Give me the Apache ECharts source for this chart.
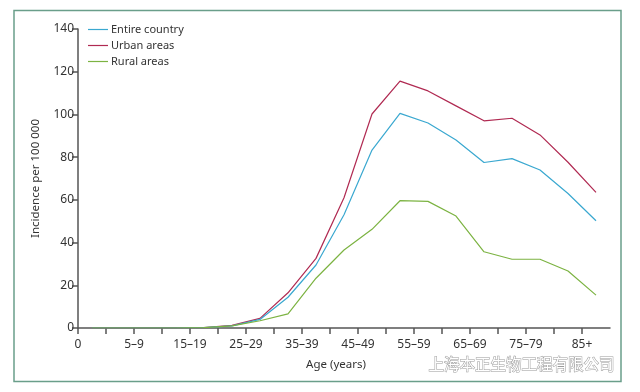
<!DOCTYPE html>
<html>
<head>
<meta charset="utf-8">
<script src="https://cdn.jsdelivr.net/npm/echarts@6/dist/echarts.min.js"></script>
<style>
html,body{margin:0;padding:0;background:#fff;}
#c{width:640px;height:392px;}
</style>
</head>
<body>
<div id="c"></div>
<script>
// Age groups (tick labels sit on boundaries 0..18; points drawn mid-interval)
var ageGroups = ['0','1–4','5–9','10–14','15–19','20–24','25–29','30–34','35–39','40–44','45–49','50–54','55–59','60–64','65–69','70–74','75–79','80–84','85+'];
var shownLabels = ['0','5–9','15–19','25–29','35–39','45–49','55–59','65–69','75–79','85+'];
var entireCountry = [0,0,0,0,0.2,1,4,14.4,29.5,53,83.3,100.5,96,88,77.5,79.3,74,63,50.2];
var urbanAreas    = [0,0,0,0,0.2,1.2,4.5,16.5,32.6,61,100.2,115.6,111,104,97,98.2,90.4,77.6,63.5];
var ruralAreas    = [0,0,0,0,0.2,1,3.4,6.6,23.3,36.5,46.2,59.6,59.3,52.4,35.7,32.2,32.2,26.7,15.4];

function pts(arr){ return arr.map(function(v,i){ return [i+0.5, v]; }); }

var font = 'Noto Sans';
var chart = echarts.init(document.getElementById('c'));
chart.setOption({
  animation:false,
  textStyle:{fontFamily:font},
  graphic:[
    {type:'rect', shape:{x:14,y:10.5,width:607,height:371}, style:{fill:'none',stroke:'#6a9e8a',lineWidth:1.5}, z:-1},
    {type:'text', left:428, top:356, style:{text:'上海本正生物工程有限公司', fontSize:15.5, fontFamily:'Noto Sans CJK SC', fill:'#ffffff', stroke:'#9a9a9a', lineWidth:1}}
  ],
  legend:{
    orient:'vertical', left:83, top:19, itemWidth:20, itemHeight:10, itemGap:5,
    icon:'path://M0,5 L20,5 L20,6.2 L0,6.2 Z',
    textStyle:{fontFamily:font,fontSize:11,color:'#333',padding:[0,0,0,-2]},
    data:['Entire country','Urban areas','Rural areas']
  },
  grid:{left:78,right:30,top:29,bottom:64},
  xAxis:{
    type:'value', min:0, max:19, interval:1,
    name:'Age (years)', nameLocation:'middle', nameGap:31,
    nameTextStyle:{fontFamily:font,fontSize:11.5,color:'#333',padding:[0,16,0,0]},
    axisLine:{show:true,lineStyle:{color:'#555',width:1.5}},
    axisTick:{show:true,length:6,lineStyle:{color:'#555',width:1.5}},
    axisLabel:{color:'#333',fontSize:12,fontFamily:font,margin:11,showMaxLabel:false,
      formatter:function(v){ var l = ageGroups[v]; return (l && shownLabels.indexOf(l)>=0) ? l : ''; }},
    splitLine:{show:false}
  },
  yAxis:{
    type:'value', min:0, max:140, interval:20,
    name:'Incidence per 100 000', nameLocation:'middle', nameGap:36,
    nameTextStyle:{fontFamily:font,fontSize:11.5,color:'#333'},
    axisLine:{show:true,lineStyle:{color:'#555',width:1.5}},
    axisTick:{show:true,length:6,lineStyle:{color:'#555',width:1.5}},
    axisLabel:{color:'#333',fontSize:12,fontFamily:font,margin:4},
    splitLine:{show:false}
  },
  series:[
    {name:'Entire country',type:'line',symbol:'none',data:pts(entireCountry),lineStyle:{color:'#3aa8d0',width:1.2},itemStyle:{color:'#3aa8d0'},z:3},
    {name:'Urban areas',type:'line',symbol:'none',data:pts(urbanAreas),lineStyle:{color:'#b02a52',width:1.2},itemStyle:{color:'#b02a52'},z:2},
    {name:'Rural areas',type:'line',symbol:'none',data:pts(ruralAreas),lineStyle:{color:'#7cb342',width:1.2},itemStyle:{color:'#7cb342'},z:4}
  ]
});
</script>
</body>
</html>
